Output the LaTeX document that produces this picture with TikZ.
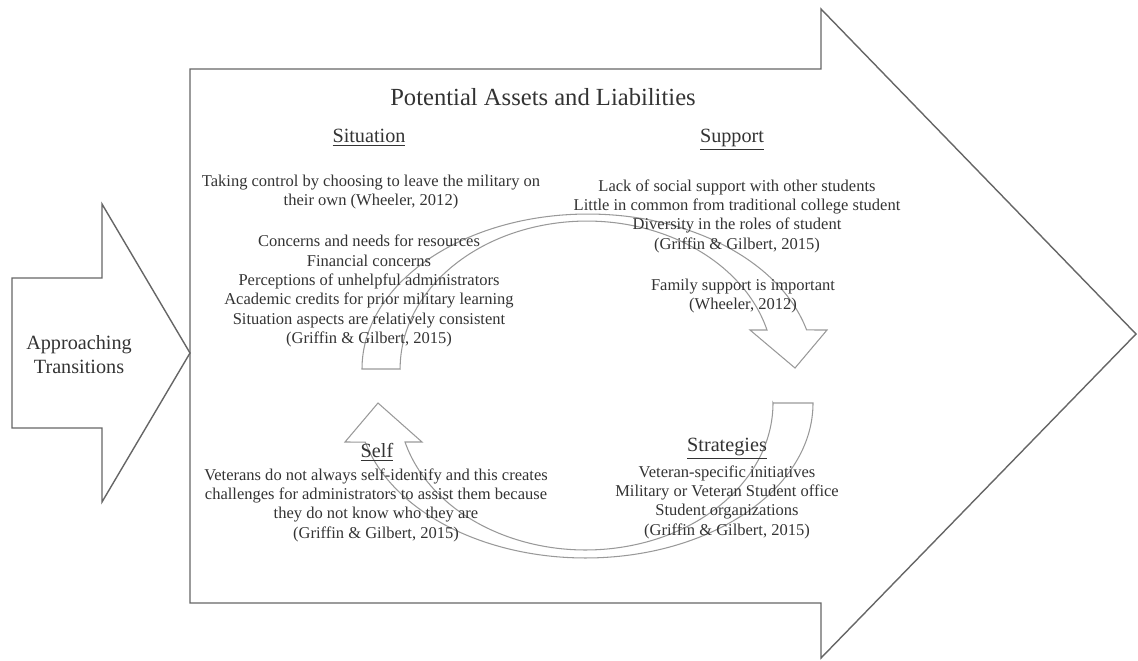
\documentclass[tikz,border=0pt]{standalone}
\usepackage{fontspec}
\setmainfont{Liberation Serif}

\begin{document}
\begin{tikzpicture}[x=0.02cm,y=-0.02cm,
        outline/.style={draw=black!60,line width=0.8pt},
        turnarrow/.style={draw=black!40,line width=0.6pt},
        headtext/.style={text=black!80,font=\fontsize{11.5}{13.6}\selectfont},
        bodytext/.style={align=center,text=black!80,font=\fontsize{9.4}{11}\selectfont}]
            \useasboundingbox (0,0) rectangle (1138,660);
            \draw[outline] (190,69) -- (821,69) -- (821,9) -- (1136,334) -- (821,658) -- (821,603) -- (190,603) -- cycle;
            \draw[outline] (12,278) -- (102,278) -- (102,204) -- (190,353) -- (102,502) -- (102,428) -- (12,428) -- cycle;
            \node[headtext,align=center] (approach) at (79,355) {Approaching\\Transitions};
            \draw[turnarrow] (400,369) -- (362,369) arc[start angle=180, end angle=14.6, x radius=4.52cm, y radius=3.1cm]
                -- (827,330) -- (795,368) -- (750,330) -- (767,330)
                arc[start angle=15.3, end angle=180, x radius=3.736cm, y radius=2.96cm] -- cycle;
            \draw[turnarrow] (773,403) -- (813,403) arc[start angle=0, end angle=-165.4, x radius=4.552cm, y radius=3.1cm]
                -- (345,442) -- (378,403) -- (422,442) -- (405,442)
                arc[start angle=-164.6, end angle=0, x radius=3.748cm, y radius=2.94cm] -- cycle;
            \node[headtext,font=\fontsize{14}{16}\selectfont] (title) at (543,97) {Potential Assets and Liabilities};
            \node[headtext] (situation) at (369,138) {\underline{Situation}};
                \node[bodytext] (sitcontrol) at (371,192) {Taking control by choosing to leave the military on\\their own (Wheeler, 2012)};
                \node[bodytext] (sitconcerns) at (369,291) {Concerns and needs for resources\\Financial concerns\\Perceptions of unhelpful administrators\\Academic credits for prior military learning\\Situation aspects are relatively consistent\\(Griffin \& Gilbert, 2015)};
            \node[headtext] (support) at (732,140) {\underline{Support}};
                \node[bodytext] (supstudents) at (737,216) {Lack of social support with other students\\Little in common from traditional college student\\Diversity in the roles of student\\(Griffin \& Gilbert, 2015)};
                \node[bodytext] (supfamily) at (743,296) {Family support is important\\(Wheeler, 2012)};
            \node[headtext] (self) at (377,452) {\underline{Self}};
                \node[bodytext] (selfid) at (376,505) {Veterans do not always self-identify and this creates\\challenges for administrators to assist them because\\they do not know who they are\\(Griffin \& Gilbert, 2015)};
            \node[headtext] (strategies) at (727,449) {\underline{Strategies}};
                \node[bodytext] (stratoffice) at (727,502) {Veteran-specific initiatives\\Military or Veteran Student office\\Student organizations\\(Griffin \& Gilbert, 2015)};
        \end{tikzpicture}
\end{document}
